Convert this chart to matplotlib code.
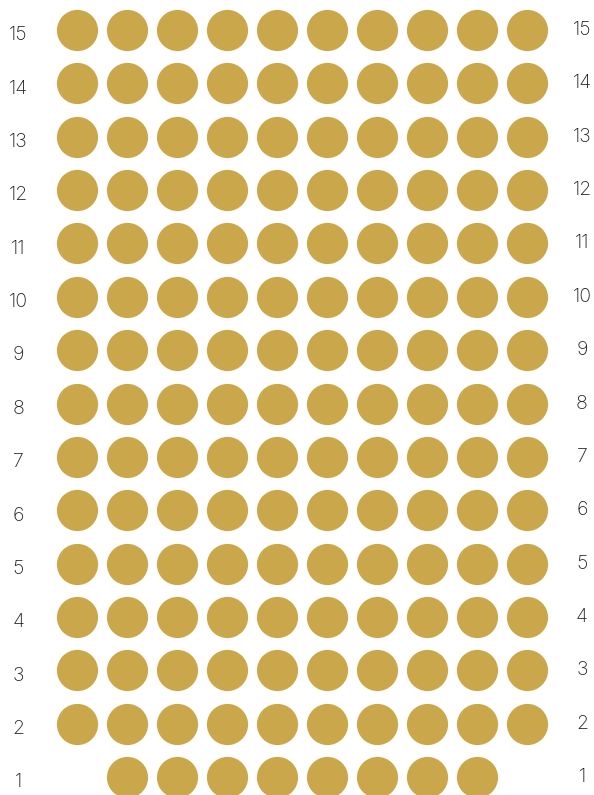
import matplotlib.pyplot as plt

# seating grid: row number and the seat columns that are filled
rows = list(range(1, 16))
row_seats = {1: list(range(2, 10))}
for r in range(2, 16):
    row_seats[r] = list(range(1, 11))

dot_color = '#CBA74B'
text_color = '#222222'

fig = plt.figure(figsize=(5.94, 7.95), dpi=100)
ax = fig.add_axes([0, 0, 1, 1])

xs, ys = [], []
for r in rows:
    for c in row_seats[r]:
        xs.append(c)
        ys.append(r)
ax.scatter(xs, ys, s=880, color=dot_color, linewidths=0)

for r in rows:
    ax.text(-0.17, r - 0.1, str(r), ha='center', va='center',
            fontsize=14, family='Inter', fontweight='light', color=text_color)
    ax.text(11.1, r, str(r), ha='center', va='center',
            fontsize=14, family='Inter', fontweight='light', color=text_color)

ax.set_xlim(-0.54, 11.34)
ax.set_ylim(0.663, 15.562)
ax.axis('off')

fig.savefig('out.png', dpi=100)
